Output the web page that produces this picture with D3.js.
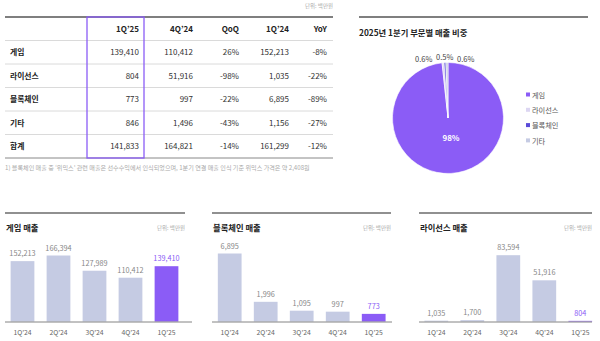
<!DOCTYPE html>
<html><head><meta charset="utf-8">
<script src="https://cdn.jsdelivr.net/npm/d3@7"></script>
<style>
body{margin:0;background:#fff;}
svg{display:block;font-family:"Noto Sans CJK KR","Noto Sans",sans-serif;}
</style></head>
<body><svg id="c" width="600" height="341"></svg>
<script>
// ---- data ----
const segments = ["게임","라이선스","블록체인","기타","합계"];
const tableColumns = ["1Q’25","4Q’24","QoQ","1Q’24","YoY"];
const q1_25 = [139410, 804, 773, 846, 141833];
const q4_24 = [110412, 51916, 997, 1496, 164821];
const qoq = ["26%","-98%","-22%","-43%","-14%"];
const q1_24 = [152213, 1035, 6895, 1156, 161299];
const yoy = ["-8%","-22%","-89%","-27%","-12%"];
const footnote = "1) 블록체인 매출 중 ‘위믹스’ 관련 매출은 선수수익에서 인식되었으며, 1분기 연결 매출 인식 기준 위믹스 가격은 약 2,408원";
const unitLabel = "단위: 백만원";

const pieTitle = "2025년 1분기 부문별 매출 비중";
const pieCategories = ["게임","라이선스","블록체인","기타"];
const pieValues = [139410, 804, 773, 846];

const quarters = ["1Q’24","2Q’24","3Q’24","4Q’24","1Q’25"];
const gameSales = [152213, 166394, 127989, 110412, 139410];
const blockchainSales = [6895, 1996, 1095, 997, 773];
const licenseSales = [1035, 1700, 83594, 51916, 804];

const PURPLE = "#8b5cf6";
const BARGREY = "#c5cbe3";
const pieColors = ["#8b5cf6", "#dcd6f2", "#5a4bd8", "#c5cbe3"];

const svg = d3.select("#c");
const fmt = d3.format(",");

// ---- table ----
const tbl = svg.append("g");
const rowY = d3.scaleBand().domain(d3.range(6)).range([17, 158]);
const colRight = d3.scaleOrdinal().domain(tableColumns).range([139, 193, 239, 289, 327]);
tbl.append("text").attr("x", 333).attr("y", 8).attr("text-anchor","end")
  .attr("font-size", 5.5).attr("fill", "#aaa").text(unitLabel);
d3.range(1,6).forEach(i=>{
  tbl.append("line").attr("x1",5).attr("x2",333).attr("y1",rowY(i)).attr("y2",rowY(i))
    .attr("stroke","#d0d0d0").attr("stroke-width",0.8);
});
tbl.append("line").attr("x1",5).attr("x2",333).attr("y1",17).attr("y2",17).attr("stroke","#555").attr("stroke-width",1.3);
tbl.append("line").attr("x1",5).attr("x2",333).attr("y1",158).attr("y2",158).attr("stroke","#888").attr("stroke-width",1);
tableColumns.forEach(c=>{
  tbl.append("text").attr("x", colRight(c)).attr("y", rowY(0)+rowY.bandwidth()/2+3)
    .attr("text-anchor","end").attr("font-size",8).attr("font-weight","bold").attr("fill","#222").text(c);
});
const cols = [q1_25.map(fmt), q4_24.map(fmt), qoq, q1_24.map(fmt), yoy];
segments.forEach((s,i)=>{
  const cy = rowY(i+1)+rowY.bandwidth()/2+3;
  tbl.append("text").attr("x",10).attr("y",cy).attr("font-size",7.8).attr("font-weight","bold").attr("fill","#222").text(s);
  cols.forEach((col,j)=>{
    tbl.append("text").attr("x",colRight(tableColumns[j])).attr("y",cy).attr("text-anchor","end")
      .attr("font-size",8).attr("fill","#333").text(col[i]);
  });
});
tbl.append("rect").attr("x",87).attr("y",17).attr("width",57).attr("height",141)
  .attr("fill","none").attr("stroke",PURPLE).attr("stroke-width",1.3);
svg.append("text").attr("x",5).attr("y",170).attr("font-size",6.1).attr("fill","#aaa").text(footnote);

// ---- pie ----
const pg = svg.append("g");
pg.append("line").attr("x1",359).attr("x2",588).attr("y1",17).attr("y2",17).attr("stroke","#555").attr("stroke-width",1.3);
pg.append("text").attr("x",359).attr("y",36).attr("font-size",8.3).attr("font-weight","bold").attr("fill","#222").text(pieTitle);
const cx = 448, cy = 118, R = 55.5;
const total = d3.sum(pieValues);
const pie = d3.pie().sort(null).value(d=>d).startAngle(0).endAngle(2*Math.PI);
const arcs = pie(pieValues);
const arc = d3.arc().innerRadius(0).outerRadius(R);
const pieG = pg.append("g").attr("transform",`translate(${cx},${cy})`);
pieG.selectAll("path").data(arcs).join("path").attr("d",arc)
  .attr("fill",(d,i)=>pieColors[i]).attr("stroke","#fff").attr("stroke-width",0.6);
const pctFmt = v => { const p = v/total*100; return p < 1 ? p.toFixed(1)+"%" : Math.round(p)+"%"; };
pieG.append("text").attr("x",3).attr("y",23).attr("text-anchor","middle")
  .attr("font-size",8).attr("fill","#fff").attr("font-weight","bold").text(pctFmt(pieValues[0]));
const small = arcs.slice(1);
const midA = (small[1].startAngle+small[1].endAngle)/2;
const baseX = Math.sin(midA)*(R+6);
small.forEach((d,k)=>{
  const off = (k-1)*21;
  pieG.append("text").attr("x", baseX+off).attr("y", -R - (k===1 ? 3 : 1))
    .attr("text-anchor","middle").attr("font-size",7.5).attr("fill","#444").text(pctFmt(d.value));
});
const lg = pg.append("g").attr("transform","translate(526,95)");
pieCategories.forEach((c,i)=>{
  const g = lg.append("g").attr("transform",`translate(0,${i*15.3})`);
  g.append("rect").attr("x",0).attr("y",-2.5).attr("width",4).attr("height",4).attr("fill",pieColors[i]);
  g.append("text").attr("x",6).attr("y",2.6).attr("font-size",7.2).attr("fill","#555").text(c);
});

// ---- bar panels ----
function panel(x0, x1, axisEnd, title, values, barsLeft, barsRight, maxPx){
  const g = svg.append("g");
  g.append("line").attr("x1",x0).attr("x2",x1).attr("y1",213).attr("y2",213).attr("stroke","#222").attr("stroke-width",1.2);
  g.append("text").attr("x",x0+1).attr("y",231).attr("font-size",8.3).attr("font-weight","bold").attr("fill","#222").text(title);
  g.append("text").attr("x",x1).attr("y",230).attr("text-anchor","end").attr("font-size",5.5).attr("fill","#aaa").text(unitLabel);
  const base = 321.5;
  const xs = d3.scaleBand().domain(quarters).range([barsLeft, barsRight]).paddingInner(0.34).paddingOuter(0.17);
  const ys = d3.scaleLinear().domain([0, d3.max(values)]).range([base, base - maxPx]);
  g.selectAll("rect.bar").data(values).join("rect").attr("class","bar")
    .attr("x",(d,i)=>xs(quarters[i])).attr("width",xs.bandwidth())
    .attr("y",d=>ys(d)).attr("height",d=>base-ys(d))
    .attr("fill",(d,i)=>i===values.length-1?PURPLE:BARGREY);
  g.append("line").attr("x1",x0).attr("x2",axisEnd).attr("y1",base+0.5).attr("y2",base+0.5).attr("stroke","#666").attr("stroke-width",0.8);
  g.selectAll("text.val").data(values).join("text").attr("class","val")
    .attr("x",(d,i)=>xs(quarters[i])+xs.bandwidth()/2).attr("y",d=>ys(d)-5)
    .attr("text-anchor","middle").attr("font-size",7.3)
    .attr("fill",(d,i)=>i===values.length-1?PURPLE:"#888").text(d=>fmt(d));
  g.selectAll("text.cat").data(quarters).join("text").attr("class","cat")
    .attr("x",d=>xs(d)+xs.bandwidth()/2).attr("y",335)
    .attr("text-anchor","middle").attr("font-size",6.8).attr("fill","#666").text(d=>d);
}
panel(5, 185, 192, "게임 매출", gameSales, 4.5, 184.5, 66);
panel(212, 391, 392, "블록체인 매출", blockchainSales, 211.7, 391.7, 68);
panel(419, 592, 592, "라이선스 매출", licenseSales, 418.3, 598.3, 66.3);
</script></body></html>
